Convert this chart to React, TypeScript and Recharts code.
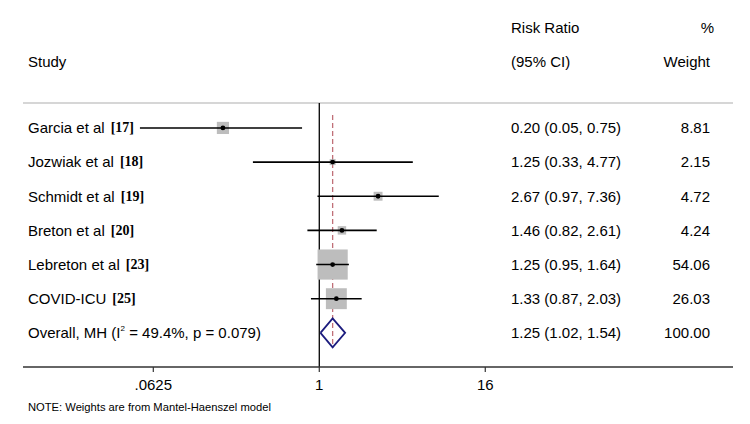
import { ComposedChart, Scatter, XAxis, YAxis, ReferenceLine, Customized } from "recharts";

const studies = ["Garcia et al", "Jozwiak et al", "Schmidt et al", "Breton et al", "Lebreton et al", "COVID-ICU"];
const refs = ["[17]", "[18]", "[19]", "[20]", "[23]", "[25]"];
const riskRatio = [0.2, 1.25, 2.67, 1.46, 1.25, 1.33];
const ciLow = [0.05, 0.33, 0.97, 0.82, 0.95, 0.87];
const ciHigh = [0.75, 4.77, 7.36, 2.61, 1.64, 2.03];
const weights = [8.81, 2.15, 4.72, 4.24, 54.06, 26.03];

const overallRR = 1.25;
const overallLow = 1.02;
const overallHigh = 1.54;
const overallWeight = 100.0;
const overallI2 = 49.4;
const overallP = 0.079;

const tickValues = [0.0625, 1, 16];
const tickLabels = [".0625", "1", "16"];

const W = 750;
const H = 424;
const FONT = "'Liberation Sans', Arial, sans-serif";
const FS = 15;
const STUDY_X = 28;
const CI_X = 511;
const WEIGHT_X = 710;
const BOX_SCALE = 4.1;
const DIAMOND_HALF = 0.425;

const lg = (v: number) => Math.log2(v);
const fmt = (v: number) => v.toFixed(2);

const rows = studies.map((s, i) => ({
  x: lg(riskRatio[i]),
  y: i + 1,
  study: s,
  ref: refs[i],
  ci: `${fmt(riskRatio[i])} (${fmt(ciLow[i])}, ${fmt(ciHigh[i])})`,
  weight: fmt(weights[i]),
  w: weights[i],
}));

const overallRow = studies.length + 1;
const overallText = [
  {
    x: lg(overallRR),
    y: overallRow,
    ci: `${fmt(overallRR)} (${fmt(overallLow)}, ${fmt(overallHigh)})`,
    weight: fmt(overallWeight),
  },
];

// diamond outline: low, top, high, bottom, back to low
const diamond = [
  { x: lg(overallLow), y: overallRow },
  { x: lg(overallRR), y: overallRow - DIAMOND_HALF },
  { x: lg(overallHigh), y: overallRow },
  { x: lg(overallRR), y: overallRow + DIAMOND_HALF },
  { x: lg(overallLow), y: overallRow },
];

const Blank = () => <g />;

// weight box: area proportional to study weight
const Box = (p: any) => {
  const s = BOX_SCALE * Math.sqrt(p.payload.w);
  return <rect x={p.cx - s / 2} y={p.cy - s / 2} width={s} height={s} fill="#bdbdbd" />;
};

const Dot = (p: any) => <circle cx={p.cx} cy={p.cy} r={2.4} fill="#000" />;

const StudyText = (p: any) => (
  <g fontFamily={FONT} fontSize={FS} fill="#000">
    <text x={STUDY_X} y={p.cy} dy="0.36em">
      {p.payload.study}
      <tspan dx={6} fontFamily="'Liberation Serif', 'Times New Roman', serif" fontWeight="bold" fontSize={14} dy={-1}>
        {p.payload.ref}
      </tspan>
    </text>
    <text x={CI_X} y={p.cy} dy="0.36em">{p.payload.ci}</text>
    <text x={WEIGHT_X} y={p.cy} dy="0.36em" textAnchor="end">{p.payload.weight}</text>
  </g>
);

const OverallText = (p: any) => (
  <g fontFamily={FONT} fontSize={FS} fill="#000">
    <text x={STUDY_X} y={p.cy} dy="0.36em">
      Overall, MH (I
      <tspan fontSize={8} dy="-7">2</tspan>
      <tspan dy="7">{` = ${overallI2}%, p = ${overallP})`}</tspan>
    </text>
    <text x={CI_X} y={p.cy} dy="0.36em">{p.payload.ci}</text>
    <text x={WEIGHT_X} y={p.cy} dy="0.36em" textAnchor="end">{p.payload.weight}</text>
  </g>
);

const Headers = () => (
  <g fontFamily={FONT} fontSize={FS} fill="#000">
    <text x={CI_X} y={28} dy="0.36em">Risk Ratio</text>
    <text x={714} y={28} dy="0.36em" textAnchor="end">%</text>
    <text x={STUDY_X} y={62} dy="0.36em">Study</text>
    <text x={CI_X} y={62} dy="0.36em">(95% CI)</text>
    <text x={WEIGHT_X} y={62} dy="0.36em" textAnchor="end">Weight</text>
    <text x={STUDY_X} y={407} dy="0.36em" fontSize={11.2}>
      NOTE: Weights are from Mantel-Haenszel model
    </text>
  </g>
);

export default function App() {
  return (
    <div style={{ position: "absolute", left: 0, top: 0, width: W, height: H, background: "#fff" }}>
      <ComposedChart width={W} height={H} margin={{ top: 103, right: 17, bottom: 0, left: 23 }}>
        <XAxis
          type="number"
          dataKey="x"
          domain={[-7.14, 9.97]}
          ticks={tickValues.map(lg)}
          tickFormatter={(v: number) => tickLabels[tickValues.map(lg).indexOf(v)] ?? ""}
          allowDataOverflow
          height={57}
          axisLine={{ stroke: "#333", strokeWidth: 1.5 }}
          tickLine={{ stroke: "#333", strokeWidth: 1.2 }}
          tickSize={5}
          tickMargin={7}
          tick={{ fill: "#000", fontSize: FS, fontFamily: FONT }}
        />
        <YAxis type="number" dataKey="y" domain={[0.27, 8]} reversed hide allowDataOverflow />

        <Scatter data={rows} shape={Box} isAnimationActive={false} />

        <ReferenceLine y={0.27} stroke="#c8c8c8" strokeWidth={1.5} />
        <ReferenceLine x={0} stroke="#000" strokeWidth={1.3} />
        <ReferenceLine
          segment={[
            { x: lg(overallRR), y: 0.62 },
            { x: lg(overallRR), y: 7.44 },
          ]}
          stroke="#c07078"
          strokeWidth={1.3}
          strokeDasharray="5 3"
        />

        {rows.map((r, i) => (
          <Scatter
            key={r.study}
            data={[
              { x: lg(ciLow[i]), y: r.y },
              { x: lg(ciHigh[i]), y: r.y },
            ]}
            line={{ stroke: "#000", strokeWidth: 1.6 }}
            shape={Blank}
            isAnimationActive={false}
          />
        ))}

        <Scatter data={rows} shape={Dot} isAnimationActive={false} />
        <Scatter data={diamond} line={{ stroke: "#1c1c7e", strokeWidth: 1.8 }} shape={Blank} isAnimationActive={false} />

        <Scatter data={rows} shape={StudyText} isAnimationActive={false} />
        <Scatter data={overallText} shape={OverallText} isAnimationActive={false} />
        <Customized component={Headers} />
      </ComposedChart>
    </div>
  );
}
